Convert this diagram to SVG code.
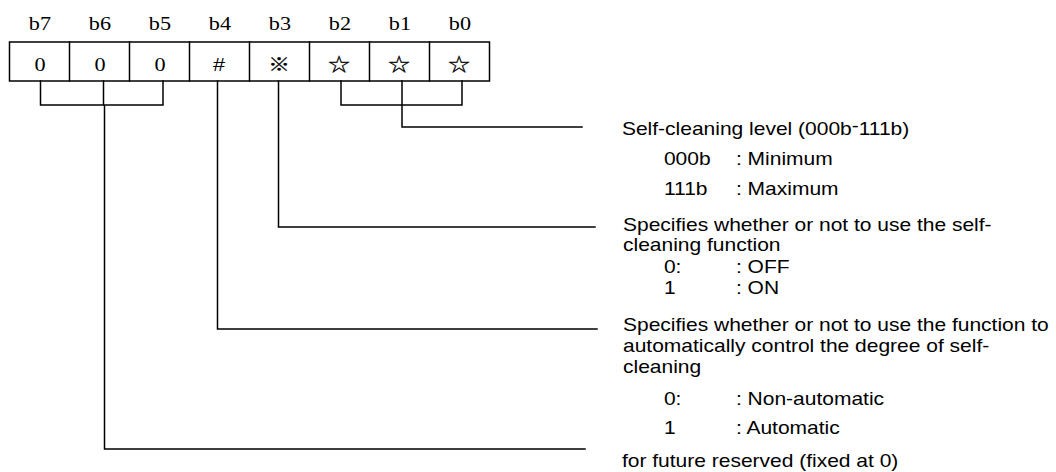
<svg xmlns="http://www.w3.org/2000/svg" width="1056" height="472" viewBox="0 0 1056 472">
<style>
.ln{stroke:#000;stroke-width:1.5;fill:none;stroke-linecap:square}
.bl{font-family:"Liberation Serif","Noto Sans CJK JP",serif;font-size:18.5px;fill:#000;text-anchor:middle}
.sym{font-family:"Noto Sans CJK JP","Liberation Sans",sans-serif;font-size:18px;fill:#000;stroke:#000;stroke-width:0.3;text-anchor:middle}
.hash{font-family:"Liberation Sans",sans-serif;font-size:18px;fill:#000;text-anchor:middle}
.t{font-family:"Liberation Sans",Arial,sans-serif;font-size:17.5px;fill:#000}
</style>
<rect width="1056" height="472" fill="#fff"/>
<g id="register">
  <rect class="ln" x="9.5" y="42" width="480" height="39"/>
  <path class="ln" d="M69.5 42V81M129.5 42V81M189.5 42V81M249.5 42V81M309.5 42V81M369.5 42V81M429.5 42V81"/>
  <g transform="scale(1.2,1)">
    <text class="bl" x="33.3" y="30">b7</text>
    <text class="bl" x="83.3" y="30">b6</text>
    <text class="bl" x="133.3" y="30">b5</text>
    <text class="bl" x="183.3" y="30">b4</text>
    <text class="bl" x="233.3" y="30">b3</text>
    <text class="bl" x="283.3" y="30">b2</text>
    <text class="bl" x="333.3" y="30">b1</text>
    <text class="bl" x="383.3" y="30">b0</text>
    <text class="bl" x="33.3" y="71">0</text>
    <text class="bl" x="83.3" y="71">0</text>
    <text class="bl" x="133.3" y="71">0</text>
    <text class="hash" x="182.5" y="71">#</text>
    <text class="sym" x="232.5" y="71">※</text>
    <text class="sym" x="282.5" y="71">☆</text>
    <text class="sym" x="332.5" y="71">☆</text>
    <text class="sym" x="382.5" y="71">☆</text>
  </g>
</g>
<g id="connectors">
  <path class="ln" d="M40.5 81V105H163V81M103.5 81V105M104.5 105V449H585"/>
  <path class="ln" d="M217.5 81V329H597"/>
  <path class="ln" d="M278.5 81V227H595"/>
  <path class="ln" d="M341 81V105H462V81M402 81V127H582"/>
</g>
<g id="labels" transform="scale(1.2,1)">
  <g id="level">
    <text class="t" x="518.3" y="135">Self-cleaning level (000b<tspan dy="-3">-</tspan><tspan dy="3">111b)</tspan></text>
    <text class="t" x="553.3" y="165">000b</text>
    <text class="t" x="613.3" y="165">: Minimum</text>
    <text class="t" x="553.3" y="195">111b</text>
    <text class="t" x="613.3" y="195">: Maximum</text>
  </g>
  <g id="selfclean">
    <text class="t" x="519.2" y="231">Specifies whether or not to use the self-</text>
    <text class="t" x="519.2" y="251">cleaning function</text>
    <text class="t" x="553.3" y="273">0:</text>
    <text class="t" x="613.3" y="273">: OFF</text>
    <text class="t" x="553.3" y="294">1</text>
    <text class="t" x="613.3" y="294">: ON</text>
  </g>
  <g id="auto">
    <text class="t" x="519.2" y="331">Specifies whether or not to use the function to</text>
    <text class="t" x="519.2" y="352">automatically control the degree of self-</text>
    <text class="t" x="519.2" y="373">cleaning</text>
    <text class="t" x="553.3" y="405">0:</text>
    <text class="t" x="613.3" y="405">: Non-automatic</text>
    <text class="t" x="553.3" y="434">1</text>
    <text class="t" x="613.3" y="434">: Automatic</text>
  </g>
  <g id="reserved">
    <text class="t" x="518.3" y="467">for future reserved (fixed at 0)</text>
  </g>
</g>
</svg>
